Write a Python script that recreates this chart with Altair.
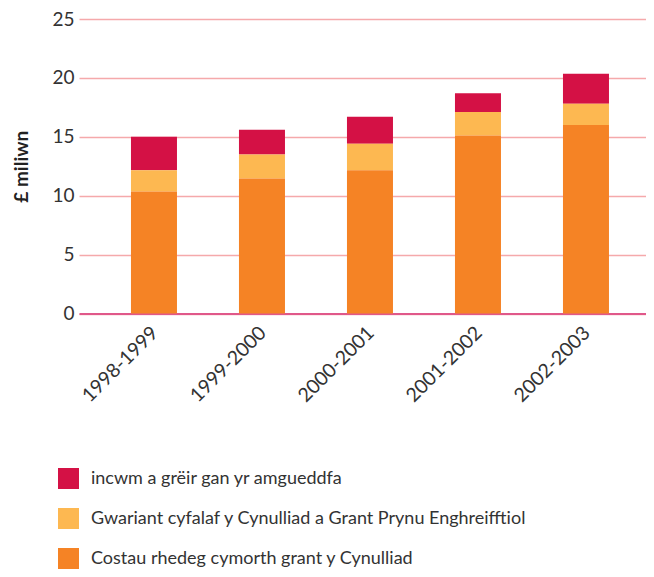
import altair as alt
import pandas as pd

years = ["1998-1999", "1999-2000", "2000-2001", "2001-2002", "2002-2003"]
series = [
    "\u00a0incwm a grëir gan yr amgueddfa",
    "Gwariant cyfalaf y Cynulliad a Grant Prynu Enghreifftiol",
    "Costau rhedeg cymorth grant y Cynulliad",
]
colors = ["#D41145", "#FDB851", "#F58325"]
stack_rank = [2, 1, 0]

running_costs = [10.35, 11.45, 12.15, 15.1, 16.0]
capital_grant = [1.8, 2.05, 2.25, 2.0, 1.8]
museum_income = [2.85, 2.1, 2.3, 1.6, 2.55]
values = [museum_income, capital_grant, running_costs]

rows = []
for s, vals, rank in zip(series, values, stack_rank):
    for y, v in zip(years, vals):
        rows.append({"year": y, "series": s, "value": v, "rank": rank})
df = pd.DataFrame(rows)

FONT = "Lato"

chart = alt.Chart(df).mark_bar().encode(
    x=alt.X("year:N", sort=years, title=None,
            scale=alt.Scale(paddingInner=0.574, paddingOuter=0.412, align=0.584),
            axis=alt.Axis(labelAngle=-45, labelAlign="right", labelBaseline="middle",
                          labelPadding=16, labelOffset=1, labelFontSize=19.5, labelFont=FONT,
                          labelColor="#333333", ticks=False, domainColor="#E0588A",
                          domainWidth=2, grid=False)),
    y=alt.Y("value:Q", title="£ miliwn",
            scale=alt.Scale(domain=[0, 25], nice=False),
            axis=alt.Axis(values=[0, 5, 10, 15, 20, 25], ticks=False, domain=False,
                          labelPadding=5, labelFontSize=19, labelFont=FONT,
                          labelColor="#333333", gridColor="#F5A9AB", gridWidth=1.5,
                          titleFont=FONT, titleFontSize=19, titleFontWeight="bold",
                          titleColor="#222222", titleAngle=-90, titleX=-58,
                          titleY=147.25, titleAlign="center", titleBaseline="middle")),
    color=alt.Color("series:N", scale=alt.Scale(domain=series, range=colors),
                    legend=alt.Legend(title=None, orient="none", legendX=-21, legendY=449,
                                      symbolType="square", symbolSize=441,
                                      symbolStrokeWidth=0, labelFontSize=18,
                                      labelFont=FONT, labelColor="#333333",
                                      rowPadding=19, labelOffset=12, padding=0,
                                      labelLimit=600)),
    order=alt.Order("rank:Q", sort="ascending"),
).properties(
    width=567, height=294.5,
    autosize=alt.AutoSizeParams(type="none"),
    padding={"left": 71, "top": 11, "right": 0, "bottom": 255.5},
).configure_view(stroke=None)

chart.save("out.html", embed_options={"renderer": "svg", "actions": False})
